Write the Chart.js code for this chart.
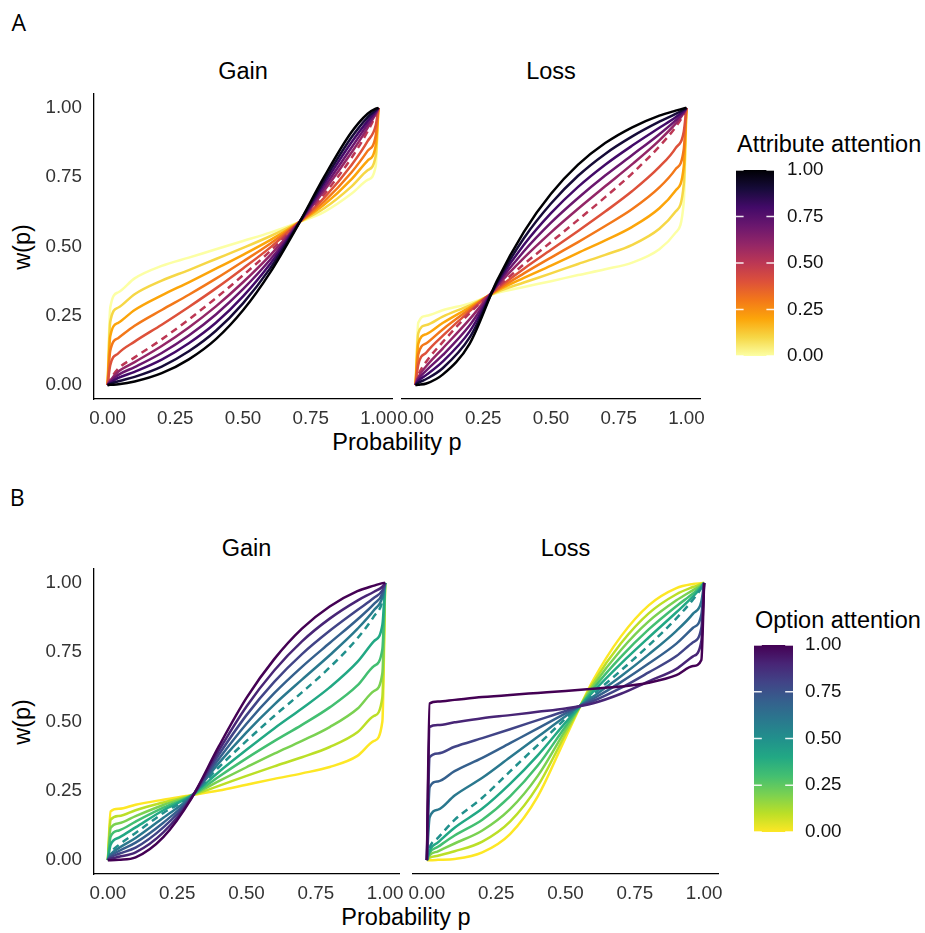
<!DOCTYPE html>
<html>
<head>
<meta charset="utf-8">
<script src="https://cdn.jsdelivr.net/npm/chart.js"></script>
<style>
  body { margin: 0; background: #fff; width: 925px; height: 933px; position: relative; overflow: hidden; }
  canvas { position: absolute; }
  .t { position: absolute; line-height: 1; white-space: nowrap; color: #000;
       font-family: "Liberation Sans", Arial, sans-serif; font-size: 23.5px; }
  .mid { transform: translateX(-50%); }
  .rot { transform: translate(-50%, -50%) rotate(-90deg); }
  .tag { font-family: "Open Sans", "Liberation Sans", sans-serif; font-size: 23px; }
</style>
</head>
<body>
<div class="t tag" style="left:11.5px; top:11.3px">A</div>
<div class="t tag" style="left:9.7px; top:486.3px">B</div>

<div class="t mid" style="left:243px; top:60.1px">Gain</div>
<div class="t mid" style="left:551px; top:60.1px">Loss</div>
<div class="t mid" style="left:397px; top:431.1px">Probability p</div>
<div class="t rot" style="left:23px; top:246.5px">w(p)</div>
<div class="t" style="left:737px; top:133.1px">Attribute attention</div>

<div class="t mid" style="left:246.5px; top:536.8px">Gain</div>
<div class="t mid" style="left:565.5px; top:536.8px">Loss</div>
<div class="t mid" style="left:406px; top:906.1px">Probability p</div>
<div class="t rot" style="left:23px; top:721.5px">w(p)</div>
<div class="t" style="left:755px; top:609.4px">Option attention</div>

<canvas id="attrGain"></canvas>
<canvas id="attrLoss"></canvas>
<canvas id="attrBar"></canvas>
<canvas id="optGain"></canvas>
<canvas id="optLoss"></canvas>
<canvas id="optBar"></canvas>

<script>
// probability grid shared by every curve
const probGrid = [0, 0.01, 0.04, 0.1, 0.2, 0.3, 0.4, 0.5, 0.6, 0.7, 0.8, 0.9, 0.96, 0.99, 1];
const attentionLevels = [0, 0.1, 0.2, 0.3, 0.4, 0.5, 0.6, 0.7, 0.8, 0.9, 1];
const axisTicks = [0, 0.25, 0.5, 0.75, 1];
const legendTicks = [0, 0.25, 0.5, 0.75, 1];
const legendRange = [0, 1];

// w(p), one row per attention level (0 ... 1)
const attrGainW = [
  [0, .280, .335, .385, .430, .460, .490, .520, .550, .585, .625, .690, .740, .790, 1],
  [0, .228, .280, .328, .377, .415, .455, .495, .537, .584, .638, .716, .775, .827, 1],
  [0, .176, .225, .271, .324, .371, .420, .470, .523, .583, .651, .742, .810, .864, 1],
  [0, .124, .170, .214, .271, .326, .384, .446, .510, .582, .663, .767, .845, .900, 1],
  [0, .072, .115, .157, .218, .282, .349, .421, .496, .581, .676, .793, .880, .937, 1],
  [0, .020, .060, .100, .165, .237, .314, .396, .483, .580, .689, .819, .915, .974, 1],
  [0, .016, .049, .083, .141, .208, .284, .371, .468, .578, .702, .838, .928, .979, 1],
  [0, .012, .037, .065, .116, .179, .255, .346, .452, .577, .714, .856, .941, .983, 1],
  [0, .008, .026, .048, .092, .151, .225, .320, .437, .575, .727, .875, .953, .988, 1],
  [0, .004, .014, .030, .067, .122, .196, .295, .421, .574, .739, .893, .966, .992, 1],
  [0, .001, .003, .013, .043, .093, .166, .270, .406, .572, .752, .912, .979, .997, 1]
];
const attrLossW = [
  [0, .225, .250, .270, .295, .332, .354, .375, .397, .418, .442, .490, .550, .660, 1],
  [0, .187, .217, .247, .288, .336, .370, .403, .437, .470, .506, .564, .626, .723, 1],
  [0, .149, .184, .224, .281, .340, .387, .431, .477, .522, .571, .638, .702, .787, 1],
  [0, .111, .151, .201, .274, .343, .403, .460, .516, .574, .635, .713, .779, .850, 1],
  [0, .073, .118, .178, .267, .347, .420, .488, .556, .626, .700, .787, .855, .914, 1],
  [0, .035, .085, .155, .260, .351, .436, .516, .596, .678, .764, .861, .931, .977, 1],
  [0, .028, .069, .132, .238, .356, .459, .551, .636, .717, .797, .883, .943, .981, 1],
  [0, .021, .053, .108, .216, .361, .483, .586, .675, .756, .830, .905, .955, .985, 1],
  [0, .015, .037, .085, .194, .366, .506, .620, .715, .795, .864, .928, .966, .990, 1],
  [0, .008, .022, .061, .172, .370, .530, .655, .755, .834, .897, .950, .978, .994, 1],
  [0, .001, .006, .038, .150, .375, .553, .690, .795, .873, .930, .972, .990, .998, 1]
];
const optGainW = [
  [0, .176, .185, .200, .218, .234, .251, .272, .293, .313, .336, .376, .430, .500, 1],
  [0, .146, .159, .180, .208, .233, .268, .304, .338, .371, .408, .461, .520, .587, 1],
  [0, .116, .133, .159, .199, .233, .285, .335, .384, .430, .480, .546, .610, .674, 1],
  [0, .085, .107, .139, .189, .232, .301, .367, .429, .488, .551, .630, .700, .761, 1],
  [0, .055, .081, .118, .180, .232, .318, .398, .475, .547, .623, .715, .790, .848, 1],
  [0, .025, .055, .098, .170, .231, .335, .430, .520, .605, .695, .800, .880, .935, 1],
  [0, .020, .044, .080, .153, .229, .350, .461, .561, .651, .739, .834, .902, .948, 1],
  [0, .015, .033, .063, .135, .226, .365, .492, .602, .697, .783, .868, .924, .961, 1],
  [0, .010, .023, .045, .118, .224, .380, .523, .643, .743, .827, .902, .946, .973, 1],
  [0, .005, .012, .028, .100, .222, .395, .554, .684, .789, .871, .936, .968, .986, 1],
  [0, .000, .001, .010, .083, .220, .410, .585, .725, .835, .915, .970, .990, .999, 1]
];
const optLossW = [
  [0, .000, .001, .004, .028, .094, .230, .441, .649, .807, .919, .981, .996, .999, 1],
  [0, .009, .016, .032, .067, .139, .267, .455, .639, .782, .890, .959, .985, .996, 1],
  [0, .018, .032, .060, .107, .184, .304, .469, .629, .758, .861, .937, .974, .992, 1],
  [0, .027, .048, .089, .146, .230, .341, .482, .618, .733, .832, .916, .962, .988, 1],
  [0, .036, .064, .117, .186, .275, .378, .496, .608, .709, .803, .894, .951, .985, 1],
  [0, .045, .080, .145, .225, .320, .415, .510, .598, .684, .774, .872, .940, .981, 1],
  [0, .154, .182, .233, .297, .371, .445, .519, .590, .663, .742, .827, .889, .933, 1],
  [0, .263, .284, .321, .369, .422, .475, .529, .582, .642, .709, .781, .838, .886, 1],
  [0, .371, .385, .409, .440, .472, .505, .538, .574, .621, .677, .736, .786, .838, 1],
  [0, .480, .487, .497, .512, .523, .535, .547, .566, .600, .645, .690, .735, .790, 1],
  [0, .565, .572, .578, .588, .596, .603, .610, .618, .626, .640, .667, .700, .722, 1]
];

// palettes, index 0 = attention 1
const inferno = ['#000004', '#160B39', '#420A68', '#6A176E', '#932667', '#BC3754',
                 '#DD513A', '#F37819', '#FCA50A', '#F6D746', '#FCFFA4'];
const viridis = ['#440154', '#482576', '#414487', '#35608D', '#2A788E', '#21908C',
                 '#22A884', '#43BF71', '#7AD151', '#BBDF27', '#FDE725'];

const sans = "'Liberation Sans', Arial, sans-serif";
const tickFont = { family: sans, size: 18.8 };
const fmt = v => Number(v).toFixed(2);

function place(canvas, left, top, width, height) {
  canvas.width = width;
  canvas.height = height;
  canvas.style.left = left + 'px';
  canvas.style.top = top + 'px';
  canvas.style.width = width + 'px';
  canvas.style.height = height + 'px';
}

// one facet: plot = pixel box of the panel, rows = curves by attention
function curvePanel(id, plot, rows, colours, withYAxis) {
  const yAxisW = 64, xAxisH = 34;
  const padL = withYAxis ? 80 : 36, padR = 36, padT = 34, padB = 52;
  const canvas = document.getElementById(id);
  place(canvas, plot.left - padL, plot.top - padT,
        plot.right - plot.left + padL + padR, plot.bottom - plot.top + padT + padB);

  const datasets = rows.map((row, k) => ({
    data: row.map((w, i) => ({ x: probGrid[i], y: w })),
    borderColor: colours[10 - k],
    borderWidth: 2.5,
    borderDash: attentionLevels[k] === 0.5 ? [7, 5] : [],
    pointRadius: 0,
    fill: false,
    cubicInterpolationMode: 'monotone',
    order: 10 - k
  }));

  return new Chart(canvas, {
    type: 'line',
    data: { datasets },
    options: {
      responsive: false,
      animation: false,
      devicePixelRatio: 1,
      events: [],
      layout: { padding: { left: padL - (withYAxis ? yAxisW : 0), right: padR, top: padT, bottom: padB - xAxisH } },
      plugins: { legend: { display: false }, tooltip: { enabled: false } },
      scales: {
        x: {
          type: 'linear', min: -0.05, max: 1.05,
          afterBuildTicks: axis => { axis.ticks = axisTicks.map(v => ({ value: v })); },
          afterFit: axis => { axis.height = xAxisH; },
          grid: { display: false, drawTicks: false },
          border: { display: true, color: '#000', width: 1.3 },
          ticks: { padding: 9, color: '#333', font: tickFont, maxRotation: 0, autoSkip: false, callback: fmt }
        },
        y: {
          type: 'linear', min: -0.05, max: 1.05, display: withYAxis,
          afterBuildTicks: axis => { axis.ticks = axisTicks.map(v => ({ value: v })); },
          afterFit: axis => { if (withYAxis) axis.width = yAxisW; },
          grid: { display: false, drawTicks: false },
          border: { display: true, color: '#000', width: 1.3 },
          ticks: { padding: 12, color: '#333', font: tickFont, autoSkip: false, callback: fmt }
        }
      }
    }
  });
}

// white break marks on both edges of the colour bar
const barTicks = {
  id: 'barTicks',
  afterDatasetsDraw(chart) {
    const { ctx, chartArea, scales } = chart;
    const len = (chartArea.right - chartArea.left) / 5;
    ctx.save();
    ctx.strokeStyle = 'rgba(255,255,255,0.9)';
    ctx.lineWidth = 1.3;
    legendTicks.forEach(v => {
      const py = scales.y.getPixelForValue(v);
      ctx.beginPath();
      ctx.moveTo(chartArea.left, py); ctx.lineTo(chartArea.left + len, py);
      ctx.moveTo(chartArea.right - len, py); ctx.lineTo(chartArea.right, py);
      ctx.stroke();
    });
    ctx.restore();
  }
};

function colourBar(id, bar, colours, labelGap) {
  const padL = 4, padR = 84, padT = 34, padB = 34, axisW = 64;
  const canvas = document.getElementById(id);
  place(canvas, bar.left - padL, bar.top - padT,
        bar.right - bar.left + padL + padR, bar.bottom - bar.top + padT + padB);

  return new Chart(canvas, {
    type: 'bar',
    data: {
      labels: [''],
      datasets: [{
        data: [legendRange],
        barPercentage: 1,
        categoryPercentage: 1,
        borderWidth: 0,
        backgroundColor: c => {
          const { chart } = c;
          if (!chart.chartArea) return colours[5];
          const y = chart.scales.y;
          const g = chart.ctx.createLinearGradient(0, y.getPixelForValue(0), 0, y.getPixelForValue(1));
          colours.forEach((col, i) => g.addColorStop(1 - i / 10, col));
          return g;
        }
      }]
    },
    options: {
      responsive: false,
      animation: false,
      devicePixelRatio: 1,
      events: [],
      layout: { padding: { left: padL, right: padR - axisW, top: padT, bottom: padB } },
      plugins: { legend: { display: false }, tooltip: { enabled: false } },
      scales: {
        x: { display: false },
        y: {
          position: 'right', min: 0, max: 1,
          afterBuildTicks: axis => { axis.ticks = legendTicks.map(v => ({ value: v })); },
          afterFit: axis => { axis.width = axisW; },
          grid: { display: false, drawTicks: false },
          border: { display: false },
          ticks: { padding: labelGap, color: '#111', font: tickFont, autoSkip: false, callback: fmt }
        }
      }
    },
    plugins: [barTicks]
  });
}

curvePanel('attrGain', { left: 94, right: 392, top: 94, bottom: 399 }, attrGainW, inferno, true);
curvePanel('attrLoss', { left: 402, right: 700, top: 94, bottom: 399 }, attrLossW, inferno, false);
colourBar('attrBar', { left: 736, right: 774, top: 170, bottom: 356 }, inferno, 13);

curvePanel('optGain', { left: 94, right: 399, top: 569, bottom: 874 }, optGainW, viridis, true);
curvePanel('optLoss', { left: 413, right: 718, top: 569, bottom: 874 }, optLossW, viridis, false);
colourBar('optBar', { left: 754, right: 793, top: 645, bottom: 832 }, viridis, 12);
</script>
</body>
</html>
